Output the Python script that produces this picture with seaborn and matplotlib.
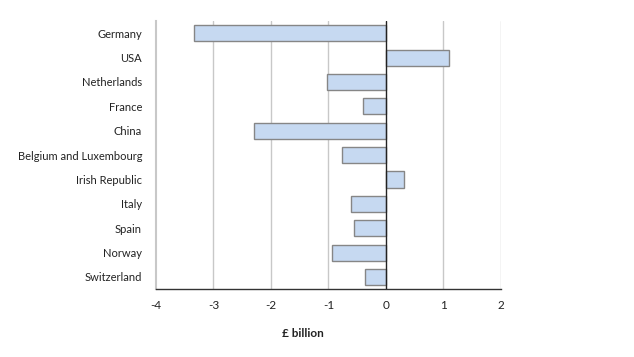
import matplotlib
matplotlib.use("Agg")
import matplotlib.pyplot as plt
import seaborn as sns
import pandas as pd

# data (£ billion)
countries = ['Germany', 'USA', 'Netherlands', 'France', 'China',
             'Belgium and Luxembourg', 'Irish Republic', 'Italy', 'Spain',
             'Norway', 'Switzerland']
values = [-3.33, 1.10, -1.03, -0.40, -2.30, -0.77, 0.32, -0.61, -0.56, -0.93, -0.37]
xticks = [-4, -3, -2, -1, 0, 1, 2]

df = pd.DataFrame({'Country': countries, 'Value': values})

sns.set_style('white')
plt.rcParams['font.family'] = ['Lato', 'DejaVu Sans']

fig = plt.figure(figsize=(6.34, 3.57), dpi=100)
ax = fig.add_axes([0.246, 0.19, 0.544, 0.751])

sns.barplot(data=df, x='Value', y='Country', ax=ax, color='#C6D9F1',
            edgecolor='#868686', linewidth=1, width=0.66, saturation=1, zorder=3)

ax.set_xlim(-4, 2)
ax.set_ylim(len(countries) - 0.5, -0.5)
ax.set_xticks(xticks)
ax.set_xticklabels([str(t) for t in xticks], fontsize=8.5, color='#222222')
ax.tick_params(axis='x', direction='out', length=4, width=1, color='#333333', pad=4)
ax.tick_params(axis='y', length=0, labelsize=8, labelcolor='#222222', pad=10)

# vertical gridlines
for t in xticks[1:]:
    if t != 0:
        ax.axvline(t, color='#C8C8C8', linewidth=1, zorder=1)
ax.axvline(0, color='#222222', linewidth=1, zorder=4)

for s in ['top', 'right']:
    ax.spines[s].set_visible(False)
ax.spines['left'].set_color('#C8C8C8')
ax.spines['left'].set_linewidth(1.5)
ax.spines['bottom'].set_color('#333333')
ax.spines['bottom'].set_linewidth(1)

ax.set_xlabel('')
ax.set_ylabel('')
fig.text(0.478, 0.067, '£ billion', fontsize=8.5, fontweight='bold',
         ha='center', va='center', color='#222222')

fig.savefig('out.png', dpi=100)
